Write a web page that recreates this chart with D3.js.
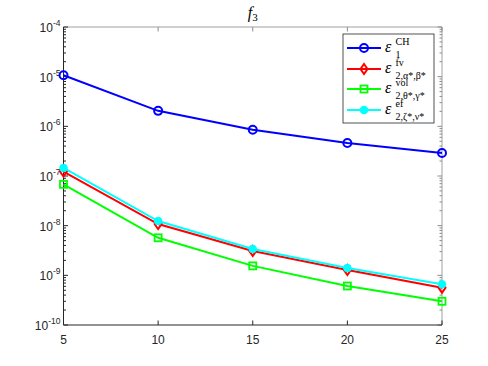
<!DOCTYPE html>
<html>
<head>
<meta charset="utf-8">
<script src="https://cdn.jsdelivr.net/npm/d3@7"></script>
<style>
  body { margin: 0; background: #fff; }
  svg { display: block; }
  .tick-label { font-family: "Liberation Sans", Arial, sans-serif; font-size: 12px; fill: #262626; }
  .leg { font-family: "Liberation Serif", "DejaVu Serif", serif; fill: #000; }
</style>
</head>
<body>
<div id="chart"></div>
<script>
// Waiting until document has loaded
window.onload = () => {

  // x values (N)
  const xs = [5, 10, 15, 20, 25];

  // series values
  const chVals  = [1.07e-5, 2.05e-6, 8.5e-7, 4.6e-7, 2.9e-7];
  const fvVals  = [1.23e-7, 1.08e-8, 3.1e-9, 1.28e-9, 5.6e-10];
  const volVals = [6.8e-8, 5.7e-9, 1.55e-9, 6.1e-10, 3.0e-10];
  const efVals  = [1.45e-7, 1.24e-8, 3.4e-9, 1.4e-9, 6.6e-10];

  const xTicks = [5, 10, 15, 20, 25];
  const yExps = [-10, -9, -8, -7, -6, -5, -4];

  const series = [
    { sup: "CH",  sub: "1",        color: "#0000ff", marker: "circle",  vals: chVals },
    { sup: "fv",  sub: "2,α*,β*",  color: "#ff0000", marker: "diamond", vals: fvVals },
    { sup: "vol", sub: "2,θ*,γ*",  color: "#00ff00", marker: "square",  vals: volVals },
    { sup: "ef",  sub: "2,ζ*,ν*",  color: "#00ffff", marker: "dot",     vals: efVals }
  ];

  const W = 488, H = 366;
  const left = 63.5, right = 442, top = 27, bottom = 325;

  const svg = d3.select("#chart").append("svg")
    .attr("width", W)
    .attr("height", H);

  const x = d3.scaleLinear().domain([5, 25]).range([left, right]);
  const y = d3.scaleLog().domain([1e-10, 1e-4]).range([bottom, top]);

  // axes box
  const axColor = "#262626";
  svg.append("line").attr("x1", left).attr("x2", right).attr("y1", top).attr("y2", top)
    .attr("stroke", "#a0a0a0");
  svg.append("line").attr("x1", right).attr("x2", right).attr("y1", top).attr("y2", bottom)
    .attr("stroke", "#a0a0a0");

  // ticks: inside, both sides
  const minor = [];
  for (let e = -10; e < -4; e++) {
    for (let m = 2; m <= 9; m++) minor.push(m * Math.pow(10, e));
  }
  minor.forEach(v => {
    svg.append("line").attr("x1", left).attr("x2", left + 2.5)
      .attr("y1", y(v)).attr("y2", y(v)).attr("stroke", axColor);
    svg.append("line").attr("x1", right).attr("x2", right - 2.5)
      .attr("y1", y(v)).attr("y2", y(v)).attr("stroke", "#8c8c8c");
  });
  yExps.forEach(e => {
    const yy = y(Math.pow(10, e));
    svg.append("line").attr("x1", left).attr("x2", left + 4.5)
      .attr("y1", yy).attr("y2", yy).attr("stroke", axColor);
    svg.append("line").attr("x1", right).attr("x2", right - 4.5)
      .attr("y1", yy).attr("y2", yy).attr("stroke", "#8c8c8c");

    const t = svg.append("text")
      .attr("class", "tick-label")
      .attr("x", left - 3)
      .attr("y", yy + 5)
      .attr("text-anchor", "end");
    t.append("tspan").text("10");
    t.append("tspan").attr("dy", -6).style("font-size", "8.5px").text(String(e));
  });

  xTicks.forEach(v => {
    svg.append("line").attr("x1", x(v)).attr("x2", x(v))
      .attr("y1", bottom).attr("y2", bottom - 4.5).attr("stroke", axColor);
    svg.append("line").attr("x1", x(v)).attr("x2", x(v))
      .attr("y1", top).attr("y2", top + 4.5).attr("stroke", "#8c8c8c");
    svg.append("text")
      .attr("class", "tick-label")
      .attr("x", x(v))
      .attr("y", bottom + 19)
      .attr("text-anchor", "middle")
      .text(v);
  });

  svg.append("line").attr("x1", left).attr("x2", right).attr("y1", bottom).attr("y2", bottom)
    .attr("stroke", axColor);
  svg.append("line").attr("x1", left).attr("x2", left).attr("y1", top).attr("y2", bottom)
    .attr("stroke", axColor);

  // title
  const title = svg.append("text")
    .attr("class", "leg")
    .attr("x", (left + right) / 2)
    .attr("y", 18)
    .attr("text-anchor", "middle")
    .style("font-size", "16px");
  title.append("tspan").style("font-style", "italic").text("f");
  title.append("tspan").attr("dy", 3).style("font-size", "11px").text("3");

  // markers
  function drawMarker(g, m, cx, cy, color) {
    if (m === "circle") {
      g.append("circle").attr("cx", cx).attr("cy", cy).attr("r", 4)
        .attr("fill", "none").attr("stroke", color).attr("stroke-width", 2);
    } else if (m === "diamond") {
      g.append("path")
        .attr("d", `M${cx},${cy - 5}L${cx + 3.5},${cy}L${cx},${cy + 5}L${cx - 3.5},${cy}Z`)
        .attr("fill", "none").attr("stroke", color).attr("stroke-width", 2);
    } else if (m === "square") {
      g.append("rect").attr("x", cx - 3.5).attr("y", cy - 3.5).attr("width", 7).attr("height", 7)
        .attr("fill", "none").attr("stroke", color).attr("stroke-width", 1.8);
    } else {
      g.append("circle").attr("cx", cx).attr("cy", cy).attr("r", 3.8)
        .attr("fill", color).attr("stroke", color).attr("stroke-width", 1);
    }
  }

  const line = d3.line()
    .x((d, i) => x(xs[i]))
    .y(d => y(d));

  // draw order: ch, fv, vol, ef (ef on top of fv)
  series.forEach(s => {
    const g = svg.append("g");
    g.append("path")
      .attr("d", line(s.vals))
      .attr("fill", "none")
      .attr("stroke", s.color)
      .attr("stroke-width", 2);
    s.vals.forEach((v, i) => drawMarker(g, s.marker, x(xs[i]), y(v), s.color));
  });

  // legend
  const lx = 343, ly = 34, lw = 91, lh = 89;
  svg.append("rect")
    .attr("x", lx).attr("y", ly).attr("width", lw).attr("height", lh)
    .attr("fill", "#fff").attr("stroke", axColor).attr("stroke-width", 0.8);

  const rowY = [48, 69, 89, 110];
  series.forEach((s, i) => {
    const g = svg.append("g");
    const yy = rowY[i];
    g.append("line")
      .attr("x1", 347).attr("x2", 381).attr("y1", yy).attr("y2", yy)
      .attr("stroke", s.color).attr("stroke-width", 2);
    drawMarker(g, s.marker, 364, yy, s.color);

    // epsilon
    g.append("text").attr("class", "leg")
      .attr("x", 385).attr("y", yy + 4)
      .style("font-size", "16px").style("font-style", "italic")
      .text("ε");
    // superscript
    g.append("text").attr("class", "leg")
      .attr("x", 395.5).attr("y", yy - 3.5)
      .style("font-size", "10px")
      .text(s.sup);
    // subscript (greek letters italic)
    g.append("text").attr("class", "leg")
      .attr("x", 395.5).attr("y", yy + 9.5)
      .style("font-size", "10px")
      .text(s.sub);
  });
};
</script>
</body>
</html>
